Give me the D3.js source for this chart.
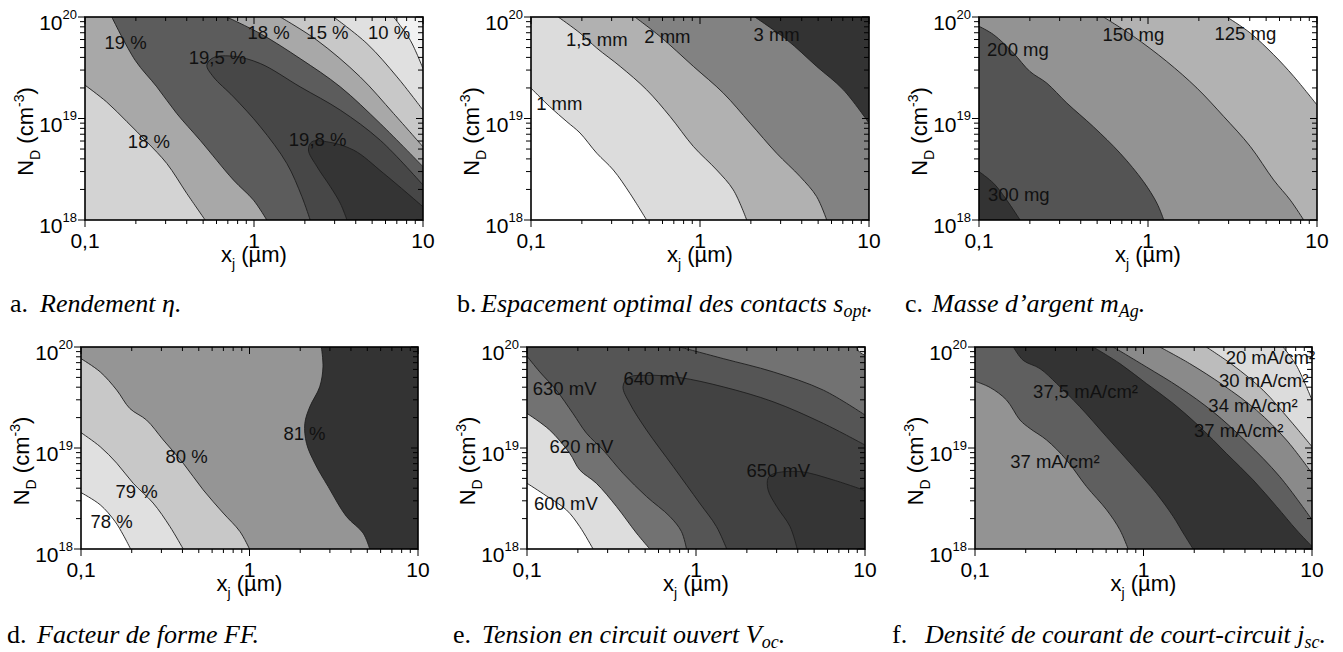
<!DOCTYPE html>
<html><head><meta charset="utf-8">
<script src="https://cdn.jsdelivr.net/npm/d3@7"></script>
<style>body{margin:0;background:#fff}svg{display:block}</style>
</head><body>
<svg id="chart" width="1343" height="652"></svg>
<script>
// ---------- axis values ----------
const xDomain = [0.1, 10];
const yDomain = [1e18, 1e20];
const xTickValues = [0.1, 1, 10];
const xTickLabels = ["0,1", "1", "10"];
const yTickValues = [1e18, 1e19, 1e20];
const yTickExps = ["18", "19", "20"];

// ---------- (a) Rendement : contour lines [xj (µm), ND (cm-3)] ----------
const eta18a = [[0.1,2.13e19],[0.134,1.46e19],[0.177,9.3e18],[0.232,5.9e18],[0.305,3.6e18],[0.40,1.83e18],[0.514,1e18]];
const eta19a = [[0.144,1e20],[0.198,3.75e19],[0.266,2.05e19],[0.349,1.12e19],[0.48,6.1e18],[0.757,2.47e18],[0.993,1.57e18],[1.19,1e18]];
const eta195 = [[2.15,1e18],[1.92,1.7e18],[1.565,3.6e18],[1.09,8.3e18],[0.757,1.63e19],[0.575,2.57e19],[0.526,3.35e19],[0.575,3.98e19],[0.757,4.1e19],[1.09,3.48e19],[1.876,2.05e19],[3.24,1.21e19],[5.59,6.1e18],[10,2.21e18]];
const eta198 = [[3.55,1e18],[3.24,1.46e18],[2.83,2.13e18],[2.36,3.35e18],[2.1,4.89e18],[2.2,5.9e18],[2.7,5.9e18],[3.88,4.89e18],[5.85,2.88e18],[10,1.35e18]];
const eta19b = [[0.69,1e20],[1.09,6.86e19],[1.876,3.89e19],[3.24,2.05e19],[5.59,8.9e18],[10,3.35e18]];
const eta18b = [[1.43,1e20],[2.36,5.9e19],[4.25,2.57e19],[6.7,1.12e19],[10,5.26e18]];
const eta15 = [[2.96,1e20],[4.66,5.47e19],[7.02,2.57e19],[10,1.21e19]];
const eta10 = [[6.7,1e20],[8.41,5.9e19],[10,3.1e19]];
const etaLabels = [["19 %",0.174,5.6e19],["19,5 %",0.608,3.98e19],["18 %",0.239,5.9e18],["19,8 %",2.38,6.2e18],["18 %",1.22,7.1e19],["15 %",2.72,7.1e19],["10 %",6.3,7.1e19]];

// ---------- (b) Espacement optimal ----------
const s1 = [[0.1,1.99e19],[0.129,1.31e19],[0.163,9.3e18],[0.195,7.2e18],[0.245,4.55e18],[0.307,3.11e18],[0.385,1.83e18],[0.483,1e18]];
const s15 = [[0.145,1e20],[0.195,6.95e19],[0.245,4.94e19],[0.337,3.26e19],[0.483,1.92e19],[0.664,1.05e19],[0.914,5.3e18],[1.256,3.11e18],[1.574,1.98e18],[1.89,1e18]];
const s2 = [[0.412,1e20],[0.579,6.45e19],[0.914,3.26e19],[1.374,1.78e19],[1.98,9.0e18],[2.84,4.55e18],[3.91,2.68e18],[4.9,1.7e18],[5.62,1e18]];
const s3 = [[2.11,1e20],[3.26,5.98e19],[4.9,3.26e19],[7.05,1.92e19],[10,9.0e18]];
const sLabels = [["1 mm",0.147,1.42e19],["1,5 mm",0.245,5.98e19],["2 mm",0.641,6.45e19],["3 mm",2.84,6.7e19]];

// ---------- (c) Masse d'argent ----------
const m300 = [[0.1,3.0e18],[0.122,2.3e18],[0.146,1.57e18],[0.175,1e18]];
const m200 = [[0.1,8.1e19],[0.122,6.7e19],[0.16,4.41e19],[0.2,2.91e19],[0.252,2.23e19],[0.331,1.42e19],[0.475,8.3e18],[0.684,4.55e18],[0.94,2.39e18],[1.13,1.46e18],[1.24,1e18]];
const m150 = [[0.545,1e20],[0.82,6.45e19],[1.29,3.65e19],[1.95,1.99e19],[2.8,1.05e19],[4.03,5.3e18],[5.54,2.48e18],[6.95,1.57e18],[8.34,1e18]];
const m125 = [[2.93,1e20],[4.03,6.95e19],[5.54,4.25e19],[7.28,2.6e19],[10,1.36e19]];
const mLabels = [["200 mg",0.170,4.76e19],["300 mg",0.172,1.77e18],["150 mg",0.82,6.7e19],["125 mg",3.77,6.95e19]];

// ---------- (d) Facteur de forme ----------
const ff78 = [[0.1,3.62e18],[0.13,2.74e18],[0.159,1.88e18],[0.178,1.38e18],[0.197,1e18]];
const ff79 = [[0.1,1.42e19],[0.13,1.03e19],[0.163,7.07e18],[0.204,4.48e18],[0.268,2.85e18],[0.337,1.67e18],[0.404,1e18]];
const ff80 = [[0.1,7.67e19],[0.13,5.67e19],[0.163,3.74e19],[0.195,2.46e19],[0.245,1.89e19],[0.308,1.2e19],[0.404,7.07e18],[0.531,3.85e18],[0.698,2.27e18],[0.877,1.49e18],[1.0,1e18]];
const ff81 = [[2.67,1e20],[2.73,6.35e19],[2.61,4.03e19],[2.28,2.56e19],[2.13,1.75e19],[2.18,1.11e19],[2.44,7.07e18],[2.93,4.15e18],[3.76,2.1e18],[4.72,1.44e18],[5.17,1e18]];
const ffLabels = [["78 %",0.152,1.88e18],["79 %",0.214,3.7e18],["80 %",0.423,8.2e18],["81 %",2.12,1.4e19]];

// ---------- (e) Tension en circuit ouvert ----------
const v600 = [[0.1,4.48e18],[0.13,3.36e18],[0.171,2.44e18],[0.205,1.67e18],[0.246,1e18]];
const v620 = [[0.1,2.2e19],[0.136,1.51e19],[0.179,8.86e18],[0.205,6.07e18],[0.257,4.48e18],[0.338,2.64e18],[0.444,1.44e18],[0.533,1e18]];
const v630a = [[0.1,8.1e19],[0.119,5.67e19],[0.149,3.74e19],[0.187,2.2e19],[0.225,1.4e19],[0.282,9.55e18],[0.37,5.62e18],[0.509,3.31e18],[0.7,2.1e18],[0.82,1.49e18],[0.879,1e18]];
const v640 = [[1.52,1e18],[1.32,1.67e18],[1.05,2.85e18],[0.733,6.55e18],[0.509,1.51e19],[0.406,2.76e19],[0.37,4.03e19],[0.397,4.98e19],[0.509,5.25e19],[0.802,4.98e19],[1.45,4.03e19],[2.86,2.87e19],[5.67,1.75e19],[10,1.07e19]];
const v650 = [[3.97,1e18],[3.6,1.67e18],[3.0,2.64e18],[2.67,3.85e18],[2.67,5.02e18],[2.86,5.54e18],[4.12,5.84e18],[6.49,4.83e18],[10,3.79e18]];
const v630b = [[0.802,1e20],[1.45,7.67e19],[2.86,5.67e19],[5.67,3.74e19],[10,2.12e19]];
const v620b = [[8.93,1e20],[9.26,8.93e19],[10,8.28e19]];
const vLabels = [["630 mV",0.167,3.88e19],["640 mV",0.575,4.87e19],["620 mV",0.21,1.03e19],["650 mV",3.07,6.07e18],["600 mV",0.17,2.85e18]];

// ---------- (f) Densité de courant ----------
const j37a = [[0.1,4.58e19],[0.123,3.97e19],[0.154,2.98e19],[0.185,1.89e19],[0.212,1.56e19],[0.266,1.2e19],[0.349,7.62e18],[0.459,4.15e18],[0.604,2.44e18],[0.724,1.55e18],[0.811,1e18]];
const j375a = [[0.169,1e20],[0.193,7.39e19],[0.243,6.11e19],[0.305,4.35e19],[0.419,2.56e19],[0.604,1.29e19],[0.869,6.55e18],[1.19,3.57e18],[1.5,2.1e18],[1.72,1.44e18],[1.97,1e18]];
const j375b = [[0.503,1e20],[0.724,6.85e19],[1.04,4.35e19],[1.5,2.76e19],[2.16,1.62e19],[3.1,8.86e18],[4.47,4.83e18],[6.15,2.64e18],[8.07,1.55e18],[10,1.06e18]];
const j37b = [[0.661,1e20],[1.04,6.35e19],[1.64,3.97e19],[2.59,2.28e19],[4.08,1.15e19],[6.43,5.21e18],[10,1.95e18]];
const j34 = [[1.25,1e20],[1.88,6.85e19],[2.97,4.19e19],[4.68,2.37e19],[7.05,1.2e19],[10,5.62e18]];
const j30 = [[2.36,1e20],[3.4,6.59e19],[5.12,3.74e19],[7.38,1.89e19],[10,1.03e19]];
const j20 = [[6.73,1e20],[8.07,6.59e19],[10,2.98e19]];
const jLabels = [["37 mA/cm²",0.298,7.33e18],["37,5 mA/cm²",0.453,3.6e19],["37 mA/cm²",3.67,1.51e19],["34 mA/cm²",4.47,2.66e19],["30 mA/cm²",5.17,4.69e19],["20 mA/cm²",5.66,7.96e19]];

// ---------- captions ----------
const captionTags = ["a.", "b.", "c.", "d.", "e.", "f."];
const captionTexts = ["Rendement η", "Espacement optimal des contacts s", "Masse d’argent m", "Facteur de forme FF", "Tension en circuit ouvert V", "Densité de courant de court-circuit j"];
const captionSubs = ["", "opt", "Ag", "", "oc", "sc"];

// ---------- layout / styles ----------
const layout = [
  {left:85, top:17, w:338, h:203, tagX:10, textX:40, capY:312},
  {left:531, top:17, w:338, h:203, tagX:457, textX:481, capY:312},
  {left:979, top:17, w:338, h:203, tagX:905, textX:932, capY:312},
  {left:81, top:347, w:337, h:202, tagX:7, textX:37, capY:643},
  {left:527, top:347, w:338, h:202, tagX:453, textX:482, capY:643},
  {left:975, top:347, w:337, h:202, tagX:892, textX:925, capY:643}
];
const panels = [
  {base:"#d3d3d3", layers:[[eta18a,"ccw","#a8a8a8"],[eta19a,"ccw","#5c5c5c"],[eta195,"cw","#474747"],[eta198,"cw","#343434"],[eta19b,"ccw","#a8a8a8"],[eta18b,"ccw","#c8c8c8"],[eta15,"ccw","#e0e0e0"],[eta10,"ccw","#f2f2f2"]], labels:etaLabels},
  {base:"#ffffff", layers:[[s1,"ccw","#dcdcdc"],[s15,"ccw","#b1b1b1"],[s2,"ccw","#828282"],[s3,"ccw","#333333"]], labels:sLabels},
  {base:"#333333", layers:[[m300,"ccw","#545454"],[m200,"ccw","#939393"],[m150,"ccw","#b2b2b2"],[m125,"ccw","#ffffff"]], labels:mLabels},
  {base:"#ffffff", layers:[[ff78,"ccw","#e0e0e0"],[ff79,"ccw","#c8c8c8"],[ff80,"ccw","#959595"],[ff81,"ccw","#333333"]], labels:ffLabels},
  {base:"#ffffff", layers:[[v600,"ccw","#dddddd"],[v620,"ccw","#727272"],[v630a,"ccw","#555555"],[v640,"cw","#424242"],[v650,"cw","#353535"],[v630b,"ccw","#727272"],[v620b,"ccw","#dddddd"]], labels:vLabels},
  {base:"#939393", layers:[[j37a,"ccw","#5f5f5f"],[j375a,"ccw","#333333"],[j375b,"ccw","#5f5f5f"],[j37b,"ccw","#8a8a8a"],[j34,"ccw","#bcbcbc"],[j30,"ccw","#dcdcdc"],[j20,"ccw","#ffffff"]], labels:jLabels}
];
const SANS = "'Liberation Sans', Arial, Helvetica, sans-serif";
const SERIF = "'Liberation Serif', 'Times New Roman', Times, serif";

const svg = d3.select("#chart");
const defs = svg.append("defs");

function closingCorners(px, dir, W, H) {
  const P = 2*W + 2*H, e = 0.6;
  const param = ([x, y]) => {
    if (Math.abs(y) < e) return x;
    if (Math.abs(x - W) < e) return W + y;
    if (Math.abs(y - H) < e) return W + H + (W - x);
    return 2*W + H + (H - y);
  };
  const corners = [[0,0,0],[W,W,0],[W+H,W,H],[2*W+H,0,H]];
  const a = param(px[px.length-1]), b = param(px[0]);
  let list;
  if (dir === "cw") {
    const span = (b - a + P) % P;
    list = corners.map(c => ({d:(c[0]-a+P)%P, p:[c[1],c[2]]}));
    list = list.filter(c => c.d > 0 && c.d < span);
  } else {
    const span = (a - b + P) % P;
    list = corners.map(c => ({d:(a-c[0]+P)%P, p:[c[1],c[2]]}));
    list = list.filter(c => c.d > 0 && c.d < span);
  }
  list.sort((u, v) => u.d - v.d);
  return list.map(c => c.p);
}

const curveLine = d3.line().curve(d3.curveCatmullRom.alpha(0.5));

panels.forEach((p, i) => {
  const L = layout[i];
  const W = L.w, H = L.h;
  const x = d3.scaleLog().domain(xDomain).range([0, W]);
  const y = d3.scaleLog().domain(yDomain).range([H, 0]);
  const g = svg.append("g").attr("transform", `translate(${L.left},${L.top})`);
  const cid = "clip" + i;
  defs.append("clipPath").attr("id", cid).append("rect").attr("x",0).attr("y",0).attr("width",W).attr("height",H);
  const plot = g.append("g").attr("clip-path", `url(#${cid})`);
  plot.append("rect").attr("width", W).attr("height", H).attr("fill", p.base);

  const toPx = arr => arr.map(d => [x(d[0]), y(d[1])]);
  p.layers.forEach(([arr, dir, fill]) => {
    const px = toPx(arr);
    const extra = closingCorners(px, dir, W, H);
    const d = curveLine(px) + extra.map(c => `L${c[0]},${c[1]}`).join("") + "Z";
    plot.append("path").attr("d", d).attr("fill", fill).attr("stroke", "none");
  });
  p.layers.forEach(([arr]) => {
    plot.append("path").attr("d", curveLine(toPx(arr))).attr("fill", "none")
      .attr("stroke", "#1e1e1e").attr("stroke-width", 0.9);
  });

  // contour labels
  g.selectAll("text.clab").data(p.labels).enter().append("text")
    .attr("class", "clab")
    .attr("x", d => x(d[1])).attr("y", d => y(d[2])).attr("dy", "0.36em")
    .attr("text-anchor", "middle")
    .attr("font-family", SANS).attr("font-size", 18.5).attr("fill", "#111")
    .text(d => d[0]);

  // frame
  g.append("rect").attr("width", W).attr("height", H).attr("fill", "none")
    .attr("stroke", "#000").attr("stroke-width", 1.6);

  // ticks
  const isMajor = v => Math.abs(Math.log10(v) - Math.round(Math.log10(v))) < 1e-6;
  const xt = x.ticks();
  const yt = y.ticks();
  const tk = g.append("g").attr("stroke", "#000").attr("stroke-width", 1);
  xt.forEach(v => {
    const len = isMajor(v) ? 7 : 4;
    tk.append("line").attr("x1", x(v)).attr("x2", x(v)).attr("y1", H).attr("y2", H + len);
    tk.append("line").attr("x1", x(v)).attr("x2", x(v)).attr("y1", 0).attr("y2", len);
  });
  yt.forEach(v => {
    const len = isMajor(v) ? 7 : 5;
    tk.append("line").attr("x1", 0).attr("x2", -len).attr("y1", y(v)).attr("y2", y(v));
    tk.append("line").attr("x1", W).attr("x2", W - len).attr("y1", y(v)).attr("y2", y(v));
  });

  // x tick labels
  g.selectAll("text.xtl").data(xTickValues).enter().append("text")
    .attr("class", "xtl")
    .attr("x", d => x(d)).attr("y", H + 27.5).attr("text-anchor", "middle")
    .attr("font-family", SANS).attr("font-size", 21).attr("fill", "#000")
    .text((d, k) => xTickLabels[k]);

  // y tick labels 10^n
  yTickValues.forEach((v, k) => {
    const t = g.append("text").attr("x", -8).attr("y", y(v) + 13).attr("text-anchor", "end")
      .attr("font-family", SANS).attr("font-size", 21).attr("fill", "#000");
    t.append("tspan").text("10");
    t.append("tspan").attr("dy", -11.5).attr("font-size", 13).text(yTickExps[k]);
  });

  // x title
  const xt2 = g.append("text").attr("x", W/2).attr("y", H + 42).attr("text-anchor", "middle")
    .attr("font-family", SANS).attr("font-size", 22).attr("fill", "#000");
  xt2.append("tspan").text("x");
  xt2.append("tspan").attr("dy", 7).attr("font-size", 14).text("j");
  xt2.append("tspan").attr("dy", -7).text(" (µm)");

  // y title
  const yt2 = g.append("text").attr("transform", `translate(-52,${H/2 + 13}) rotate(-90)`)
    .attr("text-anchor", "middle").attr("font-family", SANS).attr("font-size", 22).attr("fill", "#000");
  yt2.append("tspan").text("N");
  yt2.append("tspan").attr("dy", 7).attr("font-size", 14).text("D");
  yt2.append("tspan").attr("dy", -7).text(" (cm");
  yt2.append("tspan").attr("dy", -9).attr("font-size", 14).text("-3");
  yt2.append("tspan").attr("dy", 9).text(")");

  // caption
  svg.append("text").attr("x", L.tagX).attr("y", L.capY)
    .attr("font-family", SERIF).attr("font-size", 26).attr("fill", "#000").text(captionTags[i]);
  const ct = svg.append("text").attr("x", L.textX).attr("y", L.capY)
    .attr("font-family", SERIF).attr("font-size", 26).attr("font-style", "italic").attr("fill", "#000");
  ct.append("tspan").text(captionTexts[i]);
  if (captionSubs[i]) {
    ct.append("tspan").attr("dy", 5).attr("font-size", 18).text(captionSubs[i]);
    ct.append("tspan").attr("dy", -5).text(".");
  } else {
    ct.append("tspan").text(".");
  }
});
</script>
</body></html>
